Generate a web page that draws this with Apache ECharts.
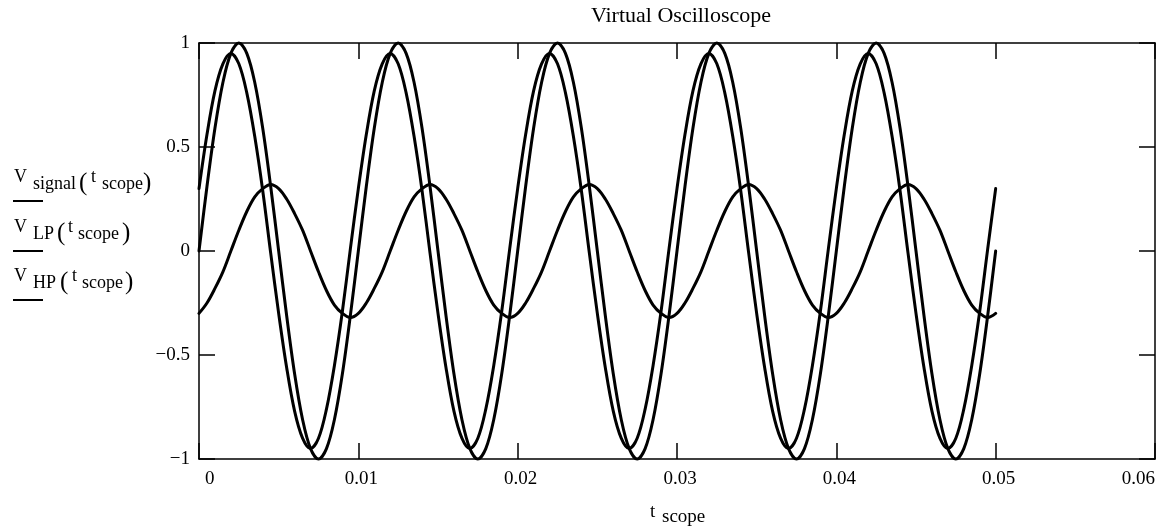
<!DOCTYPE html>
<html><head><meta charset="utf-8">
<script src="https://cdn.jsdelivr.net/npm/echarts@6/dist/echarts.min.js"></script>
<style>html,body{margin:0;padding:0;background:#fff}#c{width:1172px;height:532px}</style>
</head><body><div id="c"></div>
<script>
// ---- data ----
const tScope = [
  0, 0.0005, 0.001, 0.0015, 0.002, 0.0025, 0.003, 0.0035, 0.004, 0.0045,
  0.005, 0.0055, 0.006, 0.0065, 0.007, 0.0075, 0.008, 0.0085, 0.009, 0.0095,
  0.01, 0.0105, 0.011, 0.0115, 0.012, 0.0125, 0.013, 0.0135, 0.014, 0.0145,
  0.015, 0.0155, 0.016, 0.0165, 0.017, 0.0175, 0.018, 0.0185, 0.019, 0.0195,
  0.02, 0.0205, 0.021, 0.0215, 0.022, 0.0225, 0.023, 0.0235, 0.024, 0.0245,
  0.025, 0.0255, 0.026, 0.0265, 0.027, 0.0275, 0.028, 0.0285, 0.029, 0.0295,
  0.03, 0.0305, 0.031, 0.0315, 0.032, 0.0325, 0.033, 0.0335, 0.034, 0.0345,
  0.035, 0.0355, 0.036, 0.0365, 0.037, 0.0375, 0.038, 0.0385, 0.039, 0.0395,
  0.04, 0.0405, 0.041, 0.0415, 0.042, 0.0425, 0.043, 0.0435, 0.044, 0.0445,
  0.045, 0.0455, 0.046, 0.0465, 0.047, 0.0475, 0.048, 0.0485, 0.049, 0.0495,
  0.05
];
const vSignal = [
  0, 0.31, 0.59, 0.81, 0.95, 1, 0.95, 0.81, 0.59, 0.31,
  0, -0.31, -0.59, -0.81, -0.95, -1, -0.95, -0.81, -0.59, -0.31,
  0, 0.31, 0.59, 0.81, 0.95, 1, 0.95, 0.81, 0.59, 0.31,
  0, -0.31, -0.59, -0.81, -0.95, -1, -0.95, -0.81, -0.59, -0.31,
  0, 0.31, 0.59, 0.81, 0.95, 1, 0.95, 0.81, 0.59, 0.31,
  0, -0.31, -0.59, -0.81, -0.95, -1, -0.95, -0.81, -0.59, -0.31,
  0, 0.31, 0.59, 0.81, 0.95, 1, 0.95, 0.81, 0.59, 0.31,
  0, -0.31, -0.59, -0.81, -0.95, -1, -0.95, -0.81, -0.59, -0.31,
  0, 0.31, 0.59, 0.81, 0.95, 1, 0.95, 0.81, 0.59, 0.31,
  0, -0.31, -0.59, -0.81, -0.95, -1, -0.95, -0.81, -0.59, -0.31,
  0
];
const vLP = [
  -0.30, -0.25, -0.18, -0.10, 0.00, 0.10, 0.19, 0.26, 0.30, 0.32,
  0.30, 0.25, 0.18, 0.10, 0.00, -0.10, -0.19, -0.26, -0.30, -0.32,
  -0.30, -0.25, -0.18, -0.10, 0.00, 0.10, 0.19, 0.26, 0.30, 0.32,
  0.30, 0.25, 0.18, 0.10, 0.00, -0.10, -0.19, -0.26, -0.30, -0.32,
  -0.30, -0.25, -0.18, -0.10, 0.00, 0.10, 0.19, 0.26, 0.30, 0.32,
  0.30, 0.25, 0.18, 0.10, 0.00, -0.10, -0.19, -0.26, -0.30, -0.32,
  -0.30, -0.25, -0.18, -0.10, 0.00, 0.10, 0.19, 0.26, 0.30, 0.32,
  0.30, 0.25, 0.18, 0.10, 0.00, -0.10, -0.19, -0.26, -0.30, -0.32,
  -0.30, -0.25, -0.18, -0.10, 0.00, 0.10, 0.19, 0.26, 0.30, 0.32,
  0.30, 0.25, 0.18, 0.10, 0.00, -0.10, -0.19, -0.26, -0.30, -0.32,
  -0.30
];
const vHP = [
  0.30, 0.56, 0.77, 0.90, 0.95, 0.90, 0.76, 0.55, 0.29, -0.01,
  -0.30, -0.56, -0.77, -0.90, -0.95, -0.90, -0.76, -0.55, -0.29, 0.01,
  0.30, 0.56, 0.77, 0.90, 0.95, 0.90, 0.76, 0.55, 0.29, -0.01,
  -0.30, -0.56, -0.77, -0.90, -0.95, -0.90, -0.76, -0.55, -0.29, 0.01,
  0.30, 0.56, 0.77, 0.90, 0.95, 0.90, 0.76, 0.55, 0.29, -0.01,
  -0.30, -0.56, -0.77, -0.90, -0.95, -0.90, -0.76, -0.55, -0.29, 0.01,
  0.30, 0.56, 0.77, 0.90, 0.95, 0.90, 0.76, 0.55, 0.29, -0.01,
  -0.30, -0.56, -0.77, -0.90, -0.95, -0.90, -0.76, -0.55, -0.29, 0.01,
  0.30, 0.56, 0.77, 0.90, 0.95, 0.90, 0.76, 0.55, 0.29, -0.01,
  -0.30, -0.56, -0.77, -0.90, -0.95, -0.90, -0.76, -0.55, -0.29, 0.01,
  0.30
];
const xTickLabels = ['0', '0.01', '0.02', '0.03', '0.04', '0.05', '0.06'];
const yTickLabels = ['\u22121', '\u22120.5', '0', '0.5', '1'];
const titleText = 'Virtual Oscilloscope';
const traceNames = ['signal', 'LP', 'HP'];

// ---- styling ----
const FONT = "'Liberation Serif', 'DejaVu Serif', serif";
const INK = '#000';
function mid(baseline, size) { return baseline - 0.3375 * size; }
function txt(x, baseline, s, size, align) {
  return { type: 'text', x: x, y: mid(baseline, size), silent: true,
    style: { text: s, fill: INK, font: size + 'px ' + FONT, align: align || 'left', verticalAlign: 'middle' } };
}
const graphics = [];
graphics.push(txt(681, 24, titleText, 22, 'center'));
// x axis name  t_scope
graphics.push(txt(650, 518, 't', 19));
graphics.push(txt(662, 523, 'scope', 19));
// left y-axis labels (Mathcad style), one per trace
const rowLayout = [
  { u: 201, sub: 33, lp: 79, t: 91, sc: 102, rp: 143 },
  { u: 251, sub: 33, lp: 57, t: 68, sc: 78, rp: 122 },
  { u: 300, sub: 33, lp: 60, t: 72, sc: 82, rp: 125 }
];
traceNames.forEach(function (nm, i) {
  const r = rowLayout[i];
  graphics.push(txt(14, r.u - 18, 'V', 18));
  graphics.push(txt(r.sub, r.u - 11, nm, 18));
  graphics.push(txt(r.lp, r.u - 9, '(', 25));
  graphics.push(txt(r.t, r.u - 18, 't', 18));
  graphics.push(txt(r.sc, r.u - 11, 'scope', 18));
  graphics.push(txt(r.rp, r.u - 9, ')', 25));
  graphics.push({ type: 'line', silent: true, shape: { x1: 13, y1: r.u, x2: 43, y2: r.u },
    style: { stroke: INK, lineWidth: 2 } });
});

const axisLineStyle = { color: INK, width: 1.5 };
const tickStyle = { show: true, inside: true, length: 16, lineStyle: { color: INK, width: 1.5 } };

function mkSeries(name, ys) {
  return {
    name: name, type: 'line', data: tScope.map(function (t, i) { return [t, ys[i]]; }),
    symbol: 'none', showSymbol: false, smooth: 0.35, clip: false, silent: true,
    lineStyle: { color: INK, width: 3, cap: 'round', join: 'round' }
  };
}

const chart = echarts.init(document.getElementById('c'), null, { renderer: 'canvas' });
chart.setOption({
  animation: false,
  backgroundColor: '#fff',
  grid: { left: 199, right: 17, top: 43, bottom: 73, containLabel: false },
  xAxis: [
    { type: 'value', position: 'bottom', min: 0, max: 0.06, interval: 0.01,
      axisLine: { show: true, onZero: false, lineStyle: axisLineStyle },
      axisTick: tickStyle, splitLine: { show: false },
      axisLabel: { show: true, color: INK, fontFamily: FONT, fontSize: 19, margin: 11,
        padding: [0, 0, 0, 6], showMinLabel: true, showMaxLabel: true,
        alignMinLabel: 'left', alignMaxLabel: 'right',
        formatter: function (v, i) { return xTickLabels[i]; } } },
    { type: 'value', position: 'top', min: 0, max: 0.06, interval: 0.01,
      axisLine: { show: true, onZero: false, lineStyle: axisLineStyle },
      axisTick: tickStyle, splitLine: { show: false }, axisLabel: { show: false } }
  ],
  yAxis: [
    { type: 'value', position: 'left', min: -1, max: 1, interval: 0.5,
      axisLine: { show: true, onZero: false, lineStyle: axisLineStyle },
      axisTick: tickStyle, splitLine: { show: false },
      axisLabel: { show: true, color: INK, fontFamily: FONT, fontSize: 19, margin: 9,
        padding: [7, 0, 0, 0], showMinLabel: true, showMaxLabel: true,
        formatter: function (v, i) { return yTickLabels[i]; } } },
    { type: 'value', position: 'right', min: -1, max: 1, interval: 0.5,
      axisLine: { show: true, onZero: false, lineStyle: axisLineStyle },
      axisTick: tickStyle, splitLine: { show: false }, axisLabel: { show: false } }
  ],
  series: [mkSeries('V_signal', vSignal), mkSeries('V_LP', vLP), mkSeries('V_HP', vHP)],
  graphic: graphics
});
</script>
</body></html>
